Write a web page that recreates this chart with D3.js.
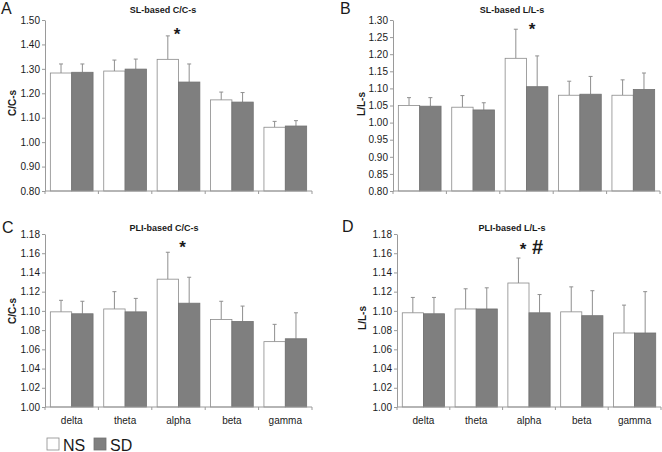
<!DOCTYPE html>
<html><head><meta charset="utf-8">
<script src="https://cdn.jsdelivr.net/npm/d3@7/dist/d3.min.js"></script>
<style>
html,body{margin:0;padding:0;background:#fff;}
svg{display:block;}
text{font-family:Arial,"Liberation Sans",sans-serif;fill:#1a1a1a;}
</style></head>
<body>
<svg id="chart" width="662" height="452"></svg>
<script>
// ---- data ----
const categories = ["delta", "theta", "alpha", "beta", "gamma"];
const groups = ["NS", "SD"];

// Panel A: SL-based C/C-s
const slCC_NS = [1.283, 1.291, 1.339, 1.173, 1.061];
const slCC_NS_err = [0.037, 0.045, 0.096, 0.032, 0.024];
const slCC_SD = [1.286, 1.299, 1.246, 1.164, 1.066];
const slCC_SD_err = [0.034, 0.041, 0.074, 0.039, 0.022];
const slCC_ticks = [0.80, 0.90, 1.00, 1.10, 1.20, 1.30, 1.40, 1.50];

// Panel B: SL-based L/L-s
const slLL_NS = [1.050, 1.045, 1.188, 1.080, 1.080];
const slLL_NS_err = [0.023, 0.034, 0.085, 0.041, 0.045];
const slLL_SD = [1.048, 1.037, 1.105, 1.083, 1.097];
const slLL_SD_err = [0.025, 0.021, 0.090, 0.052, 0.048];
const slLL_ticks = [0.80, 0.85, 0.90, 0.95, 1.00, 1.05, 1.10, 1.15, 1.20, 1.25, 1.30];

// Panel C: PLI-based C/C-s
const pliCC_NS = [1.099, 1.102, 1.133, 1.091, 1.068];
const pliCC_NS_err = [0.012, 0.018, 0.028, 0.019, 0.018];
const pliCC_SD = [1.097, 1.099, 1.108, 1.089, 1.071];
const pliCC_SD_err = [0.013, 0.014, 0.027, 0.016, 0.027];
const pliCC_ticks = [1.00, 1.02, 1.04, 1.06, 1.08, 1.10, 1.12, 1.14, 1.16, 1.18];

// Panel D: PLI-based L/L-s
const pliLL_NS = [1.098, 1.102, 1.129, 1.099, 1.077];
const pliLL_NS_err = [0.016, 0.021, 0.026, 0.026, 0.029];
const pliLL_SD = [1.097, 1.102, 1.098, 1.095, 1.077];
const pliLL_SD_err = [0.017, 0.022, 0.019, 0.026, 0.043];
const pliLL_ticks = pliCC_ticks;

// significance marks (category, value level)
const slCC_marks = [{ label: "*", category: "alpha", value: 1.46 }];
const slLL_marks = [{ label: "*", category: "alpha", value: 1.284 }];
const pliCC_marks = [{ label: "*", category: "alpha", value: 1.1707 }];
const pliLL_marks = [{ label: "*", category: "alpha", value: 1.1686 }, { label: "#", category: "alpha", value: 1.1675 }];

// ---- drawing ----
const svg = d3.select("#chart");
const axisColor = "#9a9a9a";
const sdFill = "#7f7f7f";

const panels = [
  { letter: "A", title: "SL-based C/C-s", ylab: "C/C-s", ns: slCC_NS, nsErr: slCC_NS_err, sd: slCC_SD, sdErr: slCC_SD_err, ticks: slCC_ticks, marks: slCC_marks, markDx: [-1.5],
    x0: 45, x1: 312, yTop: 20, yBot: 191, showX: false, letterPos: [1, 14], titlePos: [163, 13], ylabPos: [12, 103] },
  { letter: "B", title: "SL-based L/L-s", ylab: "L/L-s", ns: slLL_NS, nsErr: slLL_NS_err, sd: slLL_SD, sdErr: slLL_SD_err, ticks: slLL_ticks, marks: slLL_marks, markDx: [5.5],
    x0: 393, x1: 660, yTop: 20, yBot: 191, showX: false, letterPos: [340, 14], titlePos: [512, 13], ylabPos: [361, 104] },
  { letter: "C", title: "PLI-based C/C-s", ylab: "C/C-s", ns: pliCC_NS, nsErr: pliCC_NS_err, sd: pliCC_SD, sdErr: pliCC_SD_err, ticks: pliCC_ticks, marks: pliCC_marks, markDx: [4],
    x0: 45, x1: 312, yTop: 234, yBot: 407, showX: true, letterPos: [2, 233], titlePos: [164, 230.5], ylabPos: [12, 311] },
  { letter: "D", title: "PLI-based L/L-s", ylab: "L/L-s", ns: pliLL_NS, nsErr: pliLL_NS_err, sd: pliLL_SD, sdErr: pliLL_SD_err, ticks: pliLL_ticks, marks: pliLL_marks, markDx: [-6, 8.5],
    x0: 397, x1: 661, yTop: 234, yBot: 407, showX: true, letterPos: [342, 232], titlePos: [512, 230.5], ylabPos: [362, 318] }
];

panels.forEach(p => {
  const g = svg.append("g");
  const x = d3.scaleBand().domain(categories).range([p.x0, p.x1]).paddingInner(0).paddingOuter(0);
  const xi = d3.scaleBand().domain(groups).range([0, x.bandwidth()]).paddingInner(0).paddingOuter(0.25);
  const y = d3.scaleLinear().domain([p.ticks[0], p.ticks[p.ticks.length - 1]]).range([p.yBot, p.yTop]);

  const rows = [];
  categories.forEach((c, i) => {
    rows.push({ c, grp: "NS", v: p.ns[i], e: p.nsErr[i] });
    rows.push({ c, grp: "SD", v: p.sd[i], e: p.sdErr[i] });
  });

  // error bars (upper only), drawn behind bars
  const eb = g.append("g").attr("stroke", "#8f8f8f").attr("stroke-width", 1);
  rows.forEach(d => {
    const cx = x(d.c) + xi(d.grp) + xi.bandwidth() / 2;
    eb.append("line").attr("x1", cx).attr("x2", cx).attr("y1", y(d.v)).attr("y2", y(d.v + d.e));
    eb.append("line").attr("x1", cx - 2).attr("x2", cx + 2).attr("y1", y(d.v + d.e)).attr("y2", y(d.v + d.e));
  });

  // bars
  g.append("g").selectAll("rect").data(rows).join("rect")
    .attr("x", d => x(d.c) + xi(d.grp))
    .attr("y", d => y(d.v))
    .attr("width", xi.bandwidth())
    .attr("height", d => y(p.ticks[0]) - y(d.v))
    .attr("fill", d => d.grp === "NS" ? "#ffffff" : sdFill)
    .attr("stroke", d => d.grp === "NS" ? "#8a8a8a" : "#727272")
    .attr("stroke-width", 0.8);

  // y axis
  const ya = g.append("g").attr("transform", `translate(${p.x0},0)`)
    .call(d3.axisLeft(y).tickValues(p.ticks).tickFormat(d3.format(".2f")).tickSize(3).tickSizeOuter(0).tickPadding(2));
  ya.select(".domain").attr("stroke", axisColor);
  ya.selectAll(".tick line").attr("stroke", axisColor);
  ya.selectAll("text").attr("font-size", 10).attr("fill", "#1a1a1a")
    .style("font-family", "Arial, 'Liberation Sans', sans-serif");

  // x axis line with boundary ticks
  g.append("line").attr("x1", p.x0).attr("x2", p.x1).attr("y1", p.yBot).attr("y2", p.yBot).attr("stroke", axisColor);
  const bounds = categories.map(c => x(c)).concat([p.x1]);
  g.append("g").selectAll("line").data(bounds).join("line")
    .attr("x1", d => d).attr("x2", d => d).attr("y1", p.yBot).attr("y2", p.yBot + 3).attr("stroke", axisColor);

  if (p.showX) {
    g.append("g").selectAll("text").data(categories).join("text")
      .attr("x", d => x(d) + x.bandwidth() / 2)
      .attr("y", p.yBot + 16.5)
      .attr("text-anchor", "middle")
      .attr("font-size", 10)
      .text(d => d);
  }

  // title
  g.append("text").attr("x", p.titlePos[0]).attr("y", p.titlePos[1])
    .attr("text-anchor", "middle").attr("font-size", 9).attr("font-weight", "bold").text(p.title);
  // panel letter
  g.append("text").attr("x", p.letterPos[0]).attr("y", p.letterPos[1])
    .attr("font-size", 16).text(p.letter);
  // y label
  g.append("text")
    .attr("transform", `translate(${p.ylabPos[0] + 3.5},${p.ylabPos[1]}) rotate(-90)`)
    .attr("text-anchor", "middle").attr("font-size", 10).attr("font-weight", "bold").text(p.ylab);

  // significance marks
  p.marks.forEach((m, i) => {
    const cx = x(m.category) + x.bandwidth() / 2 + p.markDx[i];
    if (m.label === "*") {
      g.append("text").attr("x", cx).attr("y", y(m.value) + 10)
        .attr("text-anchor", "middle").attr("font-size", 17).attr("font-weight", "bold").text(m.label);
    } else {
      g.append("text").attr("x", cx).attr("y", y(m.value) + 8)
        .attr("text-anchor", "middle").attr("font-size", 20).attr("font-weight", "bold").text(m.label);
    }
  });
});

// legend
const legend = svg.append("g");
const legendX = [47, 94];
groups.forEach((grp, i) => {
  legend.append("rect").attr("x", legendX[i]).attr("y", 438).attr("width", 12).attr("height", 12)
    .attr("fill", grp === "NS" ? "#ffffff" : sdFill)
    .attr("stroke", grp === "NS" ? "#8a8a8a" : "#727272").attr("stroke-width", 0.8);
  legend.append("text").attr("x", legendX[i] + 16).attr("y", 450.5).attr("font-size", 16).text(grp);
});
</script>
</body></html>
